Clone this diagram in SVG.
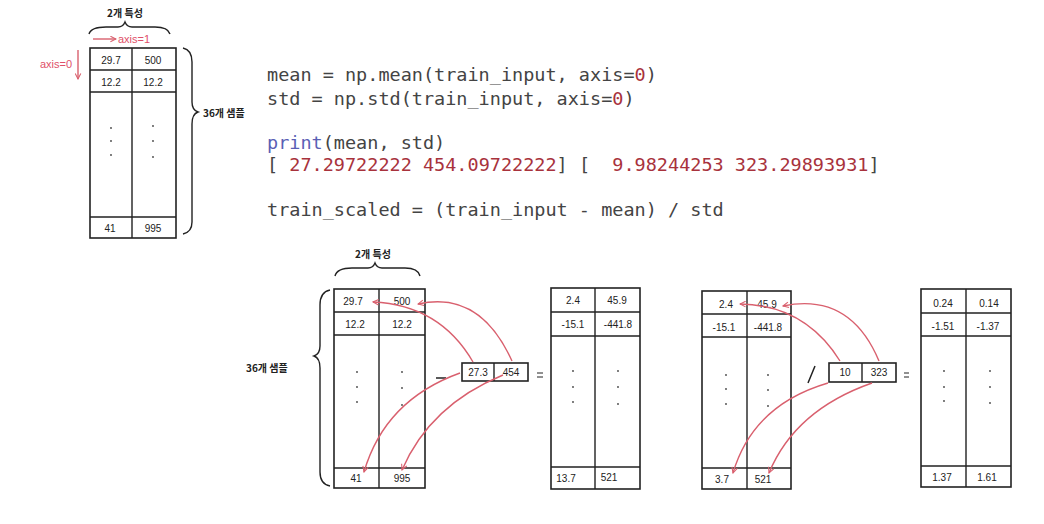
<svg xmlns="http://www.w3.org/2000/svg" width="1044" height="524" viewBox="0 0 1044 524">
<defs>
<style>
.tbl{fill:#fff;stroke:#222;stroke-width:1.6}
.ln{stroke:#222;stroke-width:1.4;fill:none}
.hw{font-family:"Liberation Sans",sans-serif;font-size:10px;fill:#222;text-anchor:middle;dominant-baseline:central}
.kr{font-family:"Noto Sans CJK KR",sans-serif;font-size:10px;fill:#222;font-weight:bold}
.code{font-family:"DejaVu Sans Mono",monospace;font-size:18.5px;fill:#444}
.num{fill:#a8323c}
.kw{fill:#5a5fb5}
.red{stroke:#d9606e;stroke-width:1.4;fill:none}
.redt{font-family:"Liberation Sans",sans-serif;font-size:11px;fill:#e0506a}
.dot{fill:#444}
.brace{stroke:#222;stroke-width:1.4;fill:none}
.op{stroke:#222;stroke-width:1.5;fill:none}
</style>
<marker id="ah" viewBox="0 0 10 10" refX="9" refY="5" markerWidth="7" markerHeight="7" orient="auto-start-reverse" markerUnits="userSpaceOnUse">
<path d="M1,1 L9,5 L1,9" fill="none" stroke="#d9606e" stroke-width="1.5"/>
</marker>
</defs>
<rect width="1044" height="524" fill="#fff"/>

<g id="top-table">
<rect class="tbl" x="90" y="48" width="86" height="190"/>
<path class="ln" d="M132,48 V238 M90,70 H176 M90,92 H176 M90,217 H176"/>
<text class="hw" x="111" y="60">29.7</text>
<text class="hw" x="153" y="60">500</text>
<text class="hw" x="111" y="82">12.2</text>
<text class="hw" x="153" y="82">12.2</text>
<circle class="dot" cx="111" cy="128" r="0.9"/><circle class="dot" cx="111" cy="141" r="0.9"/><circle class="dot" cx="111" cy="155" r="0.9"/>
<circle class="dot" cx="153" cy="126" r="0.9"/><circle class="dot" cx="153" cy="141" r="0.9"/><circle class="dot" cx="153" cy="157" r="0.9"/>
<text class="hw" x="110" y="228">41</text>
<text class="hw" x="153" y="228">995</text>
</g>

<g id="top-labels">
<path class="brace" d="M89,34 Q91,27 106,27 L118,27 Q123,27 125,22 Q127,27 132,27 L155,27 Q168,27 170,34"/>
<text class="kr" x="125" y="17" text-anchor="middle">2개 특성</text>
<path class="red" d="M93,39 H116" marker-end="url(#ah)"/>
<text class="redt" x="118" y="43">axis=1</text>
<text class="redt" x="40" y="68">axis=0</text>
<path class="red" d="M78,50 V79" marker-end="url(#ah)"/>
<path class="brace" d="M183,48 Q192,50 192,62 L192,102 Q192,110 198,112 Q192,114 192,124 L192,222 Q192,232 183,234"/>
<text class="kr" x="203" y="117">36개 샘플</text>
</g>

<g id="code">
<text class="code" x="267" y="81">mean = np.mean(train_input, axis=<tspan class="num">0</tspan>)</text>
<text class="code" x="267" y="105">std = np.std(train_input, axis=<tspan class="num">0</tspan>)</text>
<text class="code" x="267" y="149"><tspan class="kw">print</tspan>(mean, std)</text>
<text class="code" x="267" y="171" xml:space="preserve">[ <tspan class="num">27.29722222</tspan> <tspan class="num">454.09722222</tspan>] [  <tspan class="num">9.98244253</tspan> <tspan class="num">323.29893931</tspan>]</text>
<text class="code" x="267" y="216">train_scaled = (train_input - mean) / std</text>
</g>

<g id="train-input">
<rect class="tbl" x="334" y="289" width="91" height="199"/>
<path class="ln" d="M379,289 V488 M334,312 H425 M334,335 H425 M334,468 H425"/>
<text class="hw" x="353" y="301">29.7</text>
<text class="hw" x="402" y="301">500</text>
<text class="hw" x="355" y="324">12.2</text>
<text class="hw" x="402" y="324">12.2</text>
<circle class="dot" cx="357" cy="372" r="0.9"/><circle class="dot" cx="357" cy="387" r="0.9"/><circle class="dot" cx="357" cy="402" r="0.9"/>
<circle class="dot" cx="402" cy="372" r="0.9"/><circle class="dot" cx="402" cy="388" r="0.9"/><circle class="dot" cx="402" cy="405" r="0.9"/>
<text class="hw" x="356" y="478">41</text>
<text class="hw" x="402" y="478">995</text>
</g>

<g id="bottom-labels">
<path class="brace" d="M335,276 Q337,268 352,268 L368,268 Q373,268 375,263 Q377,268 382,268 L405,268 Q418,268 420,276"/>
<text class="kr" x="373" y="258" text-anchor="middle">2개 특성</text>
<path class="brace" d="M330,290 Q320,292 320,305 L320,346 Q320,354 314,356 Q320,358 320,368 L320,472 Q320,484 330,486"/>
<text class="kr" x="246" y="372">36개 샘플</text>
<path class="op" d="M436,378 H446"/>
<path class="op" d="M537,373 H543 M537,377 H543" style="stroke-width:1"/>
<path class="op" d="M815,366 L808,383"/>
<path class="op" d="M904,373 H909 M904,377 H909" style="stroke-width:1"/>
</g>

<g id="mean">
<rect class="tbl" x="462" y="363" width="66" height="18"/>
<path class="ln" d="M494,363 V381"/>
<text class="hw" x="478" y="372">27.3</text>
<text class="hw" x="511" y="372">454</text>
</g>

<g id="centered">
<rect class="tbl" x="551" y="288" width="89" height="201"/>
<path class="ln" d="M595,288 V489 M551,312 H640 M551,336 H640 M551,467 H640"/>
<text class="hw" x="573" y="300">2.4</text>
<text class="hw" x="617" y="300">45.9</text>
<text class="hw" x="573" y="324">-15.1</text>
<text class="hw" x="618" y="324">-441.8</text>
<circle class="dot" cx="573" cy="371" r="0.9"/><circle class="dot" cx="573" cy="387" r="0.9"/><circle class="dot" cx="573" cy="402" r="0.9"/>
<circle class="dot" cx="618" cy="371" r="0.9"/><circle class="dot" cx="618" cy="387" r="0.9"/><circle class="dot" cx="618" cy="404" r="0.9"/>
<text class="hw" x="566" y="478">13.7</text>
<text class="hw" x="609" y="477">521</text>
</g>

<g id="centered-2">
<rect class="tbl" x="702" y="291" width="89" height="198"/>
<path class="ln" d="M747,291 V489 M702,314 H791 M702,337 H791 M702,468 H791"/>
<text class="hw" x="726" y="304">2.4</text>
<text class="hw" x="767" y="304">45.9</text>
<text class="hw" x="724" y="327">-15.1</text>
<text class="hw" x="768" y="327">-441.8</text>
<circle class="dot" cx="726" cy="375" r="0.9"/><circle class="dot" cx="726" cy="389" r="0.9"/><circle class="dot" cx="726" cy="404" r="0.9"/>
<circle class="dot" cx="768" cy="375" r="0.9"/><circle class="dot" cx="768" cy="390" r="0.9"/><circle class="dot" cx="768" cy="406" r="0.9"/>
<text class="hw" x="722" y="479">3.7</text>
<text class="hw" x="763" y="479">521</text>
</g>

<g id="std">
<rect class="tbl" x="829" y="363" width="67" height="19"/>
<path class="ln" d="M862,363 V382"/>
<text class="hw" x="845" y="372">10</text>
<text class="hw" x="879" y="372">323</text>
</g>

<g id="scaled">
<rect class="tbl" x="921" y="289" width="90" height="198"/>
<path class="ln" d="M966,289 V487 M921,313 H1011 M921,336 H1011 M921,466 H1011"/>
<text class="hw" x="943" y="303">0.24</text>
<text class="hw" x="989" y="303">0.14</text>
<text class="hw" x="943" y="326">-1.51</text>
<text class="hw" x="988" y="326">-1.37</text>
<circle class="dot" cx="944" cy="371" r="0.9"/><circle class="dot" cx="944" cy="387" r="0.9"/><circle class="dot" cx="944" cy="401" r="0.9"/>
<circle class="dot" cx="990" cy="371" r="0.9"/><circle class="dot" cx="990" cy="387" r="0.9"/><circle class="dot" cx="990" cy="403" r="0.9"/>
<text class="hw" x="942" y="477">1.37</text>
<text class="hw" x="987" y="477">1.61</text>
</g>

<g id="connectors">
<path class="red" d="M473,362 Q440,305 373,302" marker-end="url(#ah)"/>
<path class="red" d="M512,361 Q480,290 418,304" marker-end="url(#ah)"/>
<path class="red" d="M460,373 Q385,400 364,472" marker-end="url(#ah)"/>
<path class="red" d="M503,375 Q430,405 402,470" marker-end="url(#ah)"/>
<path class="red" d="M840,361 Q805,305 740,304" marker-end="url(#ah)"/>
<path class="red" d="M879,361 Q850,292 783,306" marker-end="url(#ah)"/>
<path class="red" d="M828,383 Q753,405 733,473" marker-end="url(#ah)"/>
<path class="red" d="M872,383 Q795,410 769,473" marker-end="url(#ah)"/>
</g>
</svg>
